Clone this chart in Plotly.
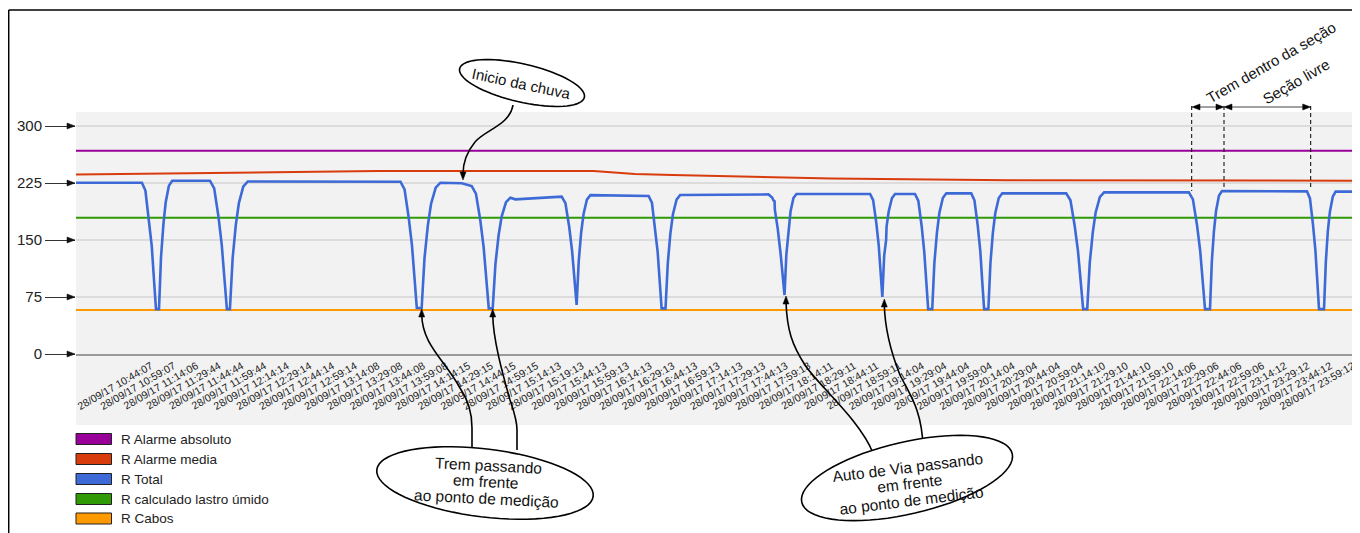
import math
import plotly.graph_objects as go

# ---------------- data ----------------
tick_labels = [
    "28/09/17 10:44:07", "28/09/17 10:59:07", "28/09/17 11:14:06", "28/09/17 11:29:44",
    "28/09/17 11:44:44", "28/09/17 11:59:44", "28/09/17 12:14:14", "28/09/17 12:29:14",
    "28/09/17 12:44:14", "28/09/17 12:59:14", "28/09/17 13:14:08", "28/09/17 13:29:08",
    "28/09/17 13:44:08", "28/09/17 13:59:08", "28/09/17 14:14:15", "28/09/17 14:29:15",
    "28/09/17 14:44:15", "28/09/17 14:59:15", "28/09/17 15:14:13", "28/09/17 15:19:13",
    "28/09/17 15:44:13", "28/09/17 15:59:13", "28/09/17 16:14:13", "28/09/17 16:29:13",
    "28/09/17 16:44:13", "28/09/17 16:59:13", "28/09/17 17:14:13", "28/09/17 17:29:13",
    "28/09/17 17:44:13", "28/09/17 17:59:13", "28/09/17 18:14:11", "28/09/17 18:29:11",
    "28/09/17 18:44:11", "28/09/17 18:59:11", "28/09/17 19:14:04", "28/09/17 19:29:04",
    "28/09/17 19:44:04", "28/09/17 19:59:04", "28/09/17 20:14:04", "28/09/17 20:29:04",
    "28/09/17 20:44:04", "28/09/17 20:59:04", "28/09/17 21:14:10", "28/09/17 21:29:10",
    "28/09/17 21:44:10", "28/09/17 21:59:10", "28/09/17 22:14:06", "28/09/17 22:29:06",
    "28/09/17 22:44:06", "28/09/17 22:59:06", "28/09/17 23:14:12", "28/09/17 23:29:12",
    "28/09/17 23:44:12", "28/09/17 23:59:12",
]
rows_per_label = 15          # one labelled sample every 15 rows
tick_rows = [i * rows_per_label for i in range(len(tick_labels))]
y_ticks = [0, 75, 150, 225, 300]

series_names = ["R Alarme absoluto", "R Alarme media", "R Total",
                "R calculado lastro úmido", "R Cabos"]

alarme_abs_rows = [-51, 799]
alarme_abs_vals = [267.5, 267.5]

alarme_media_rows = [-51, 100, 150, 292.7, 320, 345, 450, 567, 799]
alarme_media_vals = [236, 239.5, 240.8, 240.8, 237, 235.5, 231, 228.6, 228]

lastro_rows = [-51, 799]
lastro_vals = [179.3, 179.3]

cabos_rows = [-51, 799]
cabos_vals = [58, 58]

total_rows = [
    -51, -6,
    -3.7, -1.4, 0.5, 1.9, 3.3, 5.3, 6.6, 8.2, 9.7, 11.8, 14,
    39,
    41.8, 44.6, 46.8, 48.5, 50.2, 52.2, 54, 56.1, 58.1, 61, 64,
    165,
    167.7, 170.4, 172.6, 174.2, 175.8, 179, 180.9, 183.1, 185.2, 188.3, 191.4,
    205.5, 212.1,
    214.9, 217.8, 220, 221.7, 223.4, 226, 227.8, 229.9, 231.9, 234.8, 237.7,
    241, 271.6,
    274.1, 276.6, 278.5, 280, 281.5, 282.9, 284.5, 286.1, 288.3, 290.6,
    329.1,
    331.3, 333.4, 335.1, 336.4, 337.7, 340.3, 341.8, 343.5, 345.2, 347.6, 350,
    408.4,
    410.8, 411.7, 412.4, 412.6, 414.5, 416.5, 418, 419, 420.2, 421.6, 423, 424.9, 426.9,
    475.6,
    477.6, 479.7, 481.3, 482.5, 483.7, 484.9, 486.2, 486.5, 487.9, 490, 492.1,
    505.3,
    507.5, 509.7, 511.4, 512.7, 514, 516.7, 518.1, 519.8, 521.4, 523.7, 526,
    542.5,
    544.6, 546.8, 548.5, 549.7, 551, 553.8, 555.2, 556.8, 558.4, 560.7, 563,
    605.3,
    608.1, 610.9, 613.1, 614.8, 616.5, 619.2, 620.9, 622.9, 624.8, 627.6, 630.4,
    686.4,
    689.1, 691.8, 693.9, 695.5, 697.1, 700.4, 701.6, 703, 704.4, 706.3, 708.3,
    764.5,
    766.5, 768.5, 770.1, 771.3, 772.5, 775.8, 777, 778.3, 779.7, 781.6, 783.5,
    799,
]
total_vals = [
    225.4, 225.4,
    215, 179, 142, 100, 59, 59, 126.6, 170.5, 199.3, 221.2, 228,
    228,
    218, 181, 143.5, 101, 59, 59, 126.2, 169.9, 198.4, 220.3, 227,
    226.7,
    216.7, 180, 143, 102, 60.5, 60.5, 126.5, 169.3, 197.4, 218.8, 225.4,
    224.6, 221,
    211, 176, 140.5, 100, 60, 60, 118.3, 156.2, 180.9, 199.9, 205.7,
    203.5, 207,
    198.4, 167.1, 135.7, 100.1, 64.5, 122.3, 159.9, 184.4, 203.2, 209,
    208,
    199.1, 166.6, 134, 97, 60, 60, 119.7, 158.5, 183.8, 203.2, 209.2,
    210,
    206, 202, 201, 190, 165, 130, 100, 77.6, 130.6, 165.3, 187.9, 205.2, 210.5,
    210.5,
    202.4, 172.6, 142.8, 108.9, 75, 129.2, 150, 168, 187.5, 205, 210.5,
    210.5,
    201.4, 168.1, 134.8, 96.9, 59, 59, 120, 159.6, 185.5, 205.3, 211.4,
    211.4,
    202.3, 168.7, 135.2, 97.1, 59, 59, 120, 159.6, 185.5, 205.3, 211.4,
    211.4,
    202.3, 168.7, 135.2, 97.1, 59, 59, 120.5, 160.4, 186.6, 206.6, 212.7,
    212.7,
    203.5, 169.7, 135.9, 97.4, 59, 59, 121.2, 161.6, 188.1, 208.3, 214.5,
    214,
    204.7, 170.6, 136.5, 97.8, 59, 59, 120.8, 161, 187.3, 207, 213.6,
    213.6,
]

colors = {
    "R Alarme absoluto": "#990099",
    "R Alarme media": "#d83b0c",
    "R Total": "#3d6ad6",
    "R calculado lastro úmido": "#2f9a05",
    "R Cabos": "#ff9900",
}

# ---------------- layout geometry (page pixel coordinates) ----------------
OFF = 8                    # page body margin offset of the figure
FW, FH = 1360, 533
PL, PR = 76, 1360          # plot left / right (page px)
PB, PT = 354, 112          # plot bottom (y=0) / top (page px)
PX_PER_UNIT = 0.76
TICK0_PX = 151
PX_PER_ROW = 22.68 / rows_per_label
x_range = [(PL - TICK0_PX) / PX_PER_ROW, (PR - TICK0_PX) / PX_PER_ROW]
y_range = [0, (PB - PT) / PX_PER_UNIT]

FONT = "Arial, Liberation Sans, sans-serif"


def qx(x):
    return (x - PL) / (PR - PL)


def qy(y):
    return (PB - y) / (PB - PT)


def path(*segs):
    out = []
    for s in segs:
        out.append(s[0] + " " + " ".join(f"{qx(a):.5f},{qy(b):.5f}" for a, b in s[1:]))
    return " ".join(out)


def ellipse(cx, cy, a, b, deg, n=72):
    th = math.radians(deg)
    pts = []
    for k in range(n):
        t = 2 * math.pi * k / n
        x = cx + a * math.cos(t) * math.cos(th) - b * math.sin(t) * math.sin(th)
        y = cy + a * math.cos(t) * math.sin(th) + b * math.sin(t) * math.cos(th)
        pts.append((x, y))
    return "M " + " L ".join(f"{qx(x):.5f},{qy(y):.5f}" for x, y in pts) + " Z"


def tri(tx, ty, d, L=7, w=6):
    if d == "up":
        p = [(tx, ty), (tx - w / 2, ty + L), (tx + w / 2, ty + L)]
    elif d == "down":
        p = [(tx, ty), (tx - w / 2, ty - L), (tx + w / 2, ty - L)]
    elif d == "right":
        p = [(tx, ty), (tx - L, ty - w / 2), (tx - L, ty + w / 2)]
    else:
        p = [(tx, ty), (tx + L, ty - w / 2), (tx + L, ty + w / 2)]
    return "M " + " L ".join(f"{qx(x):.5f},{qy(y):.5f}" for x, y in p) + " Z"


def text(cx, cy, t, size, angle=0, xanchor="center", color="#111"):
    return dict(xref="paper", yref="paper", x=qx(cx), y=qy(cy), text=t,
                xanchor=xanchor, yanchor="middle", showarrow=False, textangle=angle,
                font=dict(size=size, color=color, family=FONT))


fig = go.Figure()

draw_order = [
    ("R Alarme absoluto", alarme_abs_rows, alarme_abs_vals, 2),
    ("R Alarme media", alarme_media_rows, alarme_media_vals, 2),
    ("R calculado lastro úmido", lastro_rows, lastro_vals, 2.2),
    ("R Cabos", cabos_rows, cabos_vals, 2),
    ("R Total", total_rows, total_vals, 2.6),
]
for name, xs, ys, w in draw_order:
    fig.add_trace(go.Scatter(x=xs, y=ys, mode="lines", name=name,
                             line=dict(color=colors[name], width=w),
                             showlegend=False, hoverinfo="skip"))

shapes = []
annos = []

# gray band under the x tick labels
shapes.append(dict(type="rect", xref="paper", yref="paper", x0=0, x1=1.01,
                   y0=qy(425), y1=0, fillcolor="#f2f2f2", line_width=0, layer="below"))
# frame lines (top / left)
shapes.append(dict(type="line", xref="paper", yref="paper", x0=qx(8.7), x1=qx(1370),
                   y0=qy(10), y1=qy(10), line=dict(color="#000", width=1.5)))
shapes.append(dict(type="line", xref="paper", yref="paper", x0=qx(8.7), x1=qx(8.7),
                   y0=qy(10), y1=qy(545), line=dict(color="#000", width=1.5)))

# arrowheads on y ticks
for v in y_ticks:
    shapes.append(dict(type="path", xref="paper", yref="paper",
                       path=tri(75, PB - v * PX_PER_UNIT, "right", 8, 6),
                       fillcolor="#111", line=dict(color="#111", width=0.5)))

# ---- "Inicio da chuva"
shapes.append(dict(type="path", xref="paper", yref="paper",
                   path=ellipse(522, 83, 64, 19, 13), fillcolor="white",
                   line=dict(color="#000", width=1.6)))
annos.append(text(521, 84, "Inicio da chuva", 15, 12))
shapes.append(dict(type="path", xref="paper", yref="paper",
                   path=path(("M", (513, 105)), ("C", (510, 125), (485, 130), (475, 142)),
                             ("C", (466, 153), (463, 165), (463, 174))),
                   line=dict(color="#000", width=1.6)))
shapes.append(dict(type="path", xref="paper", yref="paper", path=tri(463, 180, "down", 8, 6),
                   fillcolor="#000", line=dict(color="#000", width=0.5)))

# ---- "Trem passando ..."
shapes.append(dict(type="path", xref="paper", yref="paper",
                   path=path(("M", (421.7, 314)), ("C", (422, 345), (445, 360), (460, 388)),
                             ("C", (467, 398), (472, 410), (472, 428)), ("L", (472, 450))),
                   line=dict(color="#000", width=1.6)))
shapes.append(dict(type="path", xref="paper", yref="paper",
                   path=path(("M", (492.7, 314)), ("C", (493, 340), (503, 375), (510, 400)),
                             ("C", (514, 412), (517, 420), (517, 430)), ("L", (517, 450))),
                   line=dict(color="#000", width=1.6)))
for tx in (421.7, 492.7):
    shapes.append(dict(type="path", xref="paper", yref="paper", path=tri(tx, 309, "up", 8, 6),
                       fillcolor="#000", line=dict(color="#000", width=0.5)))
shapes.append(dict(type="path", xref="paper", yref="paper",
                   path=ellipse(485, 483, 109, 34, 7), fillcolor="white",
                   line=dict(color="#000", width=1.6)))
for (cx, cy), t in zip([(488, 465), (485, 481.5), (486, 498)],
                       ["Trem passando", "em frente", "ao ponto de medição"]):
    annos.append(text(cx, cy, t, 15.5, 3))

# ---- "Auto de Via passando ..."
shapes.append(dict(type="path", xref="paper", yref="paper",
                   path=path(("M", (786, 302)), ("C", (787, 330), (792, 345), (805, 365)),
                             ("C", (818, 385), (860, 420), (873, 453))),
                   line=dict(color="#000", width=1.6)))
shapes.append(dict(type="path", xref="paper", yref="paper",
                   path=path(("M", (884.3, 305)), ("C", (885, 330), (890, 350), (900, 375)),
                             ("C", (910, 395), (922, 410), (923, 447))),
                   line=dict(color="#000", width=1.6)))
shapes.append(dict(type="path", xref="paper", yref="paper", path=tri(786, 296, "up", 8, 6),
                   fillcolor="#000", line=dict(color="#000", width=0.5)))
shapes.append(dict(type="path", xref="paper", yref="paper", path=tri(884.3, 299, "up", 8, 6),
                   fillcolor="#000", line=dict(color="#000", width=0.5)))
shapes.append(dict(type="path", xref="paper", yref="paper",
                   path=ellipse(907, 478, 108, 36, -13), fillcolor="white",
                   line=dict(color="#000", width=1.6)))
for (cx, cy), t in zip([(907, 467), (909, 483.5), (911, 500)],
                       ["Auto de Via passando", "em frente", "ao ponto de medição"]):
    annos.append(text(cx, cy, t, 15.5, -7))

# ---- section markers top right
for xv, yb in ((1191.7, 191), (1224, 190), (1310.7, 190)):
    shapes.append(dict(type="line", xref="paper", yref="paper", x0=qx(xv), x1=qx(xv),
                       y0=qy(106), y1=qy(yb), line=dict(color="#000", width=1, dash="4px,3px")))
for a, b in ((1192, 1224), (1224, 1310.7)):
    shapes.append(dict(type="line", xref="paper", yref="paper", x0=qx(a + 6), x1=qx(b - 6),
                       y0=qy(107), y1=qy(107), line=dict(color="#444", width=1)))
    shapes.append(dict(type="path", xref="paper", yref="paper", path=tri(a, 107, "left", 8, 6),
                       fillcolor="#000", line=dict(color="#000", width=0.5)))
    shapes.append(dict(type="path", xref="paper", yref="paper", path=tri(b, 107, "right", 8, 6),
                       fillcolor="#000", line=dict(color="#000", width=0.5)))
annos.append(text(1271, 62.5, "Trem dentro da seção", 15, -30))
annos.append(text(1296, 81.5, "Seção livre", 15, -30))

# ---- legend (boxes + labels)
legend_centers = [439, 459, 479, 499, 518.5]
for name, cy in zip(series_names, legend_centers):
    shapes.append(dict(type="rect", xref="paper", yref="paper", x0=qx(76), x1=qx(111.5),
                       y0=qy(cy + 5.5), y1=qy(cy - 5.5), fillcolor=colors[name],
                       line=dict(color="#222", width=1)))
    annos.append(text(119, cy, name, 13.5, 0, xanchor="left", color="#222"))

fig.update_layout(
    width=FW, height=FH, autosize=False,
    margin=dict(l=PL - OFF, r=FW - (PR - OFF), t=PT - OFF, b=FH - (PB - OFF), pad=0),
    paper_bgcolor="white", plot_bgcolor="#f2f2f2",
    font=dict(family=FONT, color="#222"),
    showlegend=False, hovermode=False,
    shapes=shapes, annotations=annos,
    xaxis=dict(range=x_range, tickmode="array", tickvals=tick_rows, ticktext=tick_labels,
               tickangle=-30, tickfont=dict(size=10.5, color="#1a1a1a", family=FONT),
               showgrid=False, zeroline=False, showline=True, linecolor="#9a9a9a",
               linewidth=2, ticks="", fixedrange=True),
    yaxis=dict(range=y_range, tickmode="array", tickvals=y_ticks,
               ticktext=[str(v) for v in y_ticks],
               tickfont=dict(size=15, color="#222", family=FONT),
               ticks="outside", ticklen=30, tickcolor="#333", tickwidth=1,
               showgrid=True, gridcolor="#dcdcdc", gridwidth=1.5,
               zeroline=False, showline=False, fixedrange=True),
)

fig.write_html("out.html", config={"displayModeBar": False})
